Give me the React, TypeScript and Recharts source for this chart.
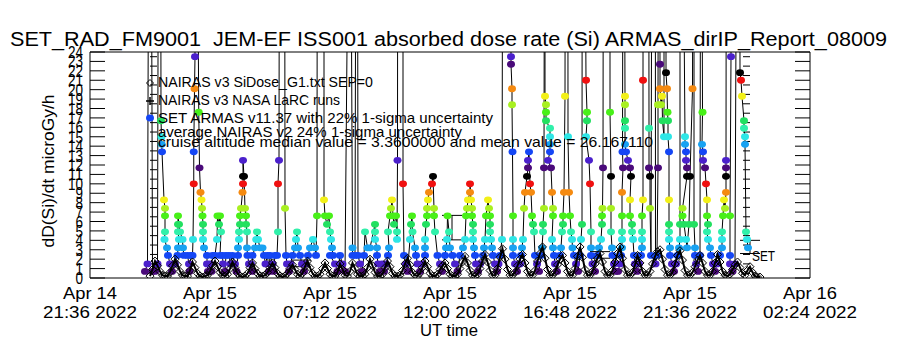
import React from 'react';
import { ComposedChart, Scatter, XAxis, YAxis, ErrorBar } from 'recharts';

const FONT = '"Liberation Sans", Arial, sans-serif';

// ---- axis ticks (hours after Apr 14 21:36 UT) ----
const xTickHours = [0, 4.8, 9.6, 14.4, 19.2, 24.0, 28.8];
const xTickDates = ['Apr 14', 'Apr 15', 'Apr 15', 'Apr 15', 'Apr 15', 'Apr 15', 'Apr 16'];
const xTickTimes = ['21:36 2022', '02:24 2022', '07:12 2022', '12:00 2022', '16:48 2022', '21:36 2022', '02:24 2022'];
const xMinorHours = [1.2, 2.4, 3.6, 6.0, 7.2, 8.4, 10.8, 12.0, 13.2, 15.6, 16.8, 18.0, 20.4, 21.6, 22.8, 25.2, 26.4, 27.6];
const yTicks = [0, 1, 2, 3, 4, 5, 6, 7, 8, 9, 10, 11, 12, 13, 14, 15, 16, 17, 18, 19, 20, 21, 22, 23, 24];
const yMinor = [0.5, 1.5, 2.5, 3.5, 4.5, 5.5, 6.5, 7.5, 8.5, 9.5, 10.5, 11.5, 12.5, 13.5, 14.5, 15.5, 16.5, 17.5, 18.5, 19.5, 20.5, 21.5, 22.5, 23.5];

// ---- NAIRAS v3 SiDose_G1 model (sampled every 0.1 h from 2.4 h) ----
const nairasStart = 2.4;
const nairasStep = 0.1;
const nairasValues = [
  0.2, 0.9, 1.8, 1.3, 0.7, 0.3, 0.2, 0.2, 0.6, 1.3,
  2.0, 1.4, 0.7, 0.3, 0.2, 0.2, 0.8, 1.7, 1.1, 0.5,
  0.2, 0.1, 0.2, 0.3, 0.7, 1.3, 1.8, 1.2, 0.6, 0.3,
  0.2, 0.4, 1.0, 1.7, 1.1, 0.5, 0.2, 0.1, 0.2, 0.5,
  1.1, 1.6, 1.0, 0.5, 0.2, 0.2, 0.3, 0.6, 1.1, 1.6,
  1.1, 0.5, 0.2, 0.1, 0.2, 0.5, 1.0, 1.4, 0.9, 0.4,
  0.2, 0.5, 1.2, 1.8, 1.1, 0.5, 0.2, 0.2, 0.4, 1.0,
  1.6, 1.0, 0.4, 0.2, 0.2, 0.6, 1.5, 0.9, 0.3, 0.2,
  0.7, 1.6, 1.0, 0.4, 0.2, 0.2, 0.4, 1.1, 2.0, 1.3,
  0.6, 0.2, 0.2, 0.4, 1.1, 1.8, 1.2, 0.5, 0.2, 0.2,
  0.3, 0.8, 1.5, 2.1, 1.4, 0.6, 0.3, 0.2, 0.5, 1.1,
  1.8, 1.2, 0.5, 0.2, 0.2, 0.4, 0.9, 1.3, 1.6, 1.0,
  0.4, 0.2, 0.2, 0.4, 1.0, 1.7, 2.3, 1.6, 0.8, 0.3,
  0.2, 0.4, 1.0, 1.8, 2.5, 1.7, 0.8, 0.3, 0.3, 1.0,
  2.2, 3.1, 2.0, 0.9, 0.3, 0.3, 0.6, 1.3, 2.0, 2.5,
  1.6, 0.7, 0.3, 0.3, 0.8, 1.8, 2.6, 3.3, 2.1, 0.9,
  0.3, 0.3, 0.6, 1.4, 2.0, 2.4, 1.6, 0.7, 0.3, 0.3,
  1.0, 2.3, 3.3, 2.2, 0.9, 0.3, 0.3, 0.7, 1.5, 2.1,
  2.6, 1.7, 0.7, 0.3, 0.3, 0.8, 1.7, 2.6, 3.3, 2.1,
  0.9, 0.3, 0.3, 0.6, 1.4, 2.4, 1.6, 0.7, 0.3, 0.3,
  0.7, 1.5, 2.3, 2.8, 3.0, 2.0, 0.9, 0.3, 0.3, 0.6,
  1.5, 2.4, 2.9, 1.9, 0.8, 0.3, 0.3, 0.6, 1.2, 1.9,
  2.4, 1.6, 0.7, 0.3, 0.3, 0.7, 1.6, 2.5, 1.7, 0.7,
  0.3, 0.2, 0.4, 0.9, 1.4, 1.7, 1.1, 0.5, 0.3, 0.8,
  1.2, 0.6, 0.2, 0.1, 0.1,
];

// ---- SET ARMAS v11.37 measurements [hour, microGy/h] in time order ----
const armas: [number, number][] = [
  [2.2, 0.7], [2.3, 1.5], [2.4, 85], [2.5, 0.7], [2.6, 0.7], [2.7, 1.5],
  [2.8, 110], [2.84, 16.7], [2.86, 15.0], [2.87, 14.2], [2.88, 13.4], [2.96, 8.3], [3.0, 7.4], [3.0, 6.6], [3.0, 4.9], [2.98, 4.1], [3.08, 3.2], [3.12, 2.4], [3.2, 1.5], [3.28, 0.7],
  [3.4, 1.5], [3.5, 2.4], [3.52, 3.2], [3.56, 4.1], [3.52, 4.9], [3.52, 5.7], [3.52, 6.6], [3.56, 5.7], [3.6, 4.9], [3.7, 4.1], [3.72, 3.2], [3.76, 2.4], [3.9, 2.4], [3.96, 1.5], [3.98, 0.7], [4.04, 2.4],
  [4.1, 2.4], [4.12, 4.1], [4.15, 10.0], [4.15, 13.4], [4.18, 20.1], [4.2, 23.5], [4.22, 70], [4.35, 17.6], [4.38, 11.7], [4.42, 9.1], [4.46, 8.3], [4.48, 7.4], [4.5, 6.6], [4.52, 5.7], [4.52, 4.9], [4.52, 4.1], [4.56, 3.2], [4.68, 2.4], [4.68, 1.5], [4.72, 0.7],
  [4.8, 1.5], [4.86, 0.7], [4.9, 2.4], [5.0, 2.4], [5.08, 4.1], [5.1, 6.6], [5.16, 5.7], [5.2, 6.6], [5.24, 4.9], [5.2, 2.4], [5.3, 2.4], [5.32, 1.5], [5.4, 0.7], [5.44, 2.4],
  [5.56, 2.4], [5.62, 1.5], [5.7, 2.4], [5.8, 1.5], [5.86, 0.7], [5.92, 2.4],
  [5.92, 3.2], [5.96, 4.1], [5.96, 4.9], [6.0, 5.7], [6.0, 6.6], [6.04, 7.4], [6.1, 9.1], [6.12, 10.0], [6.12, 10.8], [6.12, 12.5], [6.16, 10.8], [6.2, 7.4], [6.24, 6.6], [6.24, 5.7], [6.28, 4.9], [6.28, 3.2], [6.3, 2.4], [6.36, 1.5], [6.44, 1.5], [6.48, 0.7],
  [6.5, 2.4], [6.6, 3.2], [6.65, 4.1], [6.68, 4.9], [6.72, 4.1], [6.8, 3.2], [6.9, 3.2], [6.96, 2.4], [7.02, 1.5], [7.1, 2.4], [7.16, 0.7], [7.2, 2.4], [7.3, 1.5], [7.34, 0.7],
  [7.4, 2.4], [7.48, 2.4], [7.52, 4.9], [7.52, 10.0], [7.56, 12.5], [7.6, 90], [7.76, 120], [7.8, 7.4], [7.84, 2.4], [7.88, 1.5], [7.96, 0.7], [8.02, 1.5],
  [8.1, 2.4], [8.2, 3.2], [8.24, 4.1], [8.28, 4.9], [8.32, 3.2], [8.4, 2.4], [8.48, 1.5], [8.56, 0.7], [8.62, 1.5],
  [8.72, 2.4], [8.8, 3.2], [8.92, 4.1], [9.0, 3.2], [9.04, 2.4], [9.08, 6.6], [9.1, 75], [9.36, 140], [9.36, 8.3],
  [9.4, 6.6], [9.48, 5.7], [9.56, 6.6], [9.6, 4.9], [9.64, 4.1], [9.68, 3.2], [9.72, 2.4], [9.6, 2.4], [9.8, 1.5], [9.9, 0.7], [10.0, 2.4], [10.1, 1.5], [10.2, 0.7],
  [10.4, 60], [10.5, 3.2], [10.5, 2.4], [10.6, 2.4], [10.68, 95], [10.72, 2.4], [10.8, 1.5], [10.88, 0.7],
  [10.96, 2.4], [11.0, 4.9], [11.1, 3.2], [11.2, 3.2], [11.4, 5.7], [11.4, 4.9], [11.4, 4.1], [11.48, 3.2], [11.48, 2.4], [11.52, 1.5], [11.6, 0.7], [11.68, 1.5], [11.76, 0.7], [11.84, 1.5],
  [11.92, 2.4], [11.96, 3.2], [11.92, 4.9], [12.0, 6.6], [12.04, 7.4], [12.08, 8.3], [12.12, 6.6], [12.16, 5.7], [12.24, 6.6], [12.28, 4.9], [12.28, 4.1], [12.3, 12.5], [12.32, 80], [12.52, 150], [12.52, 10.0], [12.56, 2.4], [12.64, 1.5], [12.7, 0.7],
  [12.8, 4.1], [12.84, 5.7], [12.88, 6.6], [12.9, 4.9], [13.0, 3.2], [13.04, 2.4], [13.1, 1.5], [13.2, 0.7], [13.28, 1.5],
  [13.4, 2.4], [13.4, 3.2], [13.4, 4.1], [13.44, 5.7], [13.48, 6.6], [13.48, 7.4], [13.52, 8.3], [13.56, 9.1], [13.68, 10.0], [13.72, 10.8], [13.76, 7.4], [13.76, 6.6], [13.8, 4.9], [13.9, 2.4], [14.0, 1.5], [14.08, 0.7],
  [14.2, 2.4], [14.24, 3.2], [14.28, 4.1], [14.3, 6.6], [14.36, 4.9], [14.4, 3.2], [14.5, 2.4], [14.6, 1.5], [14.7, 0.7],
  [14.8, 2.4], [14.92, 3.2], [15.0, 4.1], [15.04, 6.6], [15.08, 7.4], [15.12, 8.3], [15.2, 9.1], [15.2, 10.0], [15.24, 8.3], [15.28, 7.4], [15.28, 6.6], [15.32, 5.7], [15.32, 4.9], [15.32, 4.1], [15.36, 3.2], [15.4, 2.4], [15.44, 1.5], [15.52, 0.7], [15.6, 1.5],
  [15.72, 2.4], [15.76, 3.2], [15.8, 4.1], [15.84, 6.6], [15.92, 8.3], [15.96, 7.4], [16.0, 6.6], [16.0, 5.7], [16.0, 4.9], [16.04, 4.1], [16.08, 3.2], [16.12, 2.4], [16.2, 1.5], [16.28, 0.7], [16.34, 1.5],
  [16.4, 2.4], [16.48, 4.1], [16.52, 65], [16.8, 110], [16.84, 23.5], [16.84, 22.7], [16.88, 20.1], [16.88, 18.4], [16.9, 13.4], [16.92, 6.6], [16.92, 4.1], [16.92, 3.2], [16.92, 2.4], [17.0, 1.5], [17.08, 0.7],
  [17.2, 1.5], [17.24, 2.4], [17.28, 3.2], [17.32, 4.1], [17.36, 7.4], [17.4, 9.1], [17.48, 10.8], [17.52, 11.7], [17.52, 12.5], [17.56, 13.4], [17.6, 10.0], [17.64, 9.1], [17.68, 6.6], [17.72, 5.7], [17.76, 4.9], [17.8, 2.4], [17.88, 1.5], [17.96, 0.7],
  [18.04, 2.4], [18.08, 3.2], [18.12, 4.9], [18.12, 5.7], [18.16, 7.4], [18.16, 11.7], [18.2, 85], [18.2, 19.3], [18.24, 18.4], [18.24, 17.6], [18.24, 16.7], [18.4, 15.9], [18.4, 15.0], [18.4, 14.2], [18.4, 13.4], [18.32, 12.5], [18.44, 11.7], [18.48, 9.1], [18.52, 7.4], [18.52, 6.6], [18.48, 4.1], [18.52, 3.2], [18.56, 2.4], [18.6, 1.5], [18.68, 0.7],
  [18.8, 2.4], [18.84, 3.2], [18.88, 4.9], [18.92, 5.7], [18.92, 6.6], [18.96, 9.1], [19.0, 19.3], [19.02, 70], [19.1, 130], [19.12, 15.0], [19.16, 9.1], [19.2, 6.6], [19.24, 4.9], [19.28, 4.1], [19.3, 3.2], [19.36, 2.4], [19.44, 1.5], [19.52, 0.7],
  [19.6, 2.4], [19.64, 4.1], [19.68, 5.7], [19.7, 90], [19.84, 21.0], [19.88, 17.6], [19.88, 16.7], [19.84, 15.0], [19.96, 12.5], [20.0, 10.0], [20.04, 4.9], [20.04, 3.2], [20.04, 2.4], [20.1, 1.5], [20.2, 0.7],
  [20.3, 2.4], [20.36, 3.2], [20.44, 4.1], [20.48, 5.7], [20.48, 6.6], [20.5, 7.4], [20.52, 11.7], [20.54, 60], [20.8, 100], [20.8, 17.6], [20.84, 10.8], [20.84, 7.4], [20.84, 4.9], [20.88, 3.2], [20.9, 2.4], [20.96, 1.5], [21.04, 0.7], [21.12, 0.7],
  [21.2, 1.5], [21.24, 2.4], [21.28, 3.2], [21.28, 4.1], [21.28, 4.9], [21.28, 6.6], [21.28, 9.1], [21.32, 11.7], [21.3, 13.4], [21.34, 75], [21.4, 19.3], [21.4, 18.4], [21.4, 16.7], [21.4, 15.9], [21.4, 14.2], [21.44, 13.4], [21.52, 12.5], [21.6, 11.7], [21.64, 10.8], [21.6, 8.3], [21.6, 6.6], [21.68, 5.7], [21.68, 4.9], [21.72, 4.1], [21.76, 2.4], [21.8, 1.5], [21.88, 0.7], [21.96, 1.5],
  [22.04, 2.4], [22.08, 3.2], [22.08, 4.1], [22.08, 4.9], [22.08, 6.6], [22.12, 8.3], [22.12, 21.0], [22.14, 95], [22.32, 140], [22.36, 15.9], [22.36, 11.7], [22.4, 10.8], [22.4, 7.4], [22.44, 2.4], [22.5, 70], [22.6, 120], [22.62, 1.5],
  [22.68, 2.4], [22.72, 11.7], [22.72, 18.4], [22.76, 85], [22.8, 22.7], [22.8, 20.1], [22.84, 18.4], [22.88, 19.3], [22.9, 16.7], [22.96, 15.0], [22.96, 60], [23.04, 110], [23.04, 21.8], [23.08, 20.1], [23.1, 17.6], [23.12, 16.7], [23.12, 15.0], [23.16, 13.4], [23.16, 8.3], [23.16, 5.7], [23.16, 4.9], [23.16, 4.1], [23.2, 3.2], [23.2, 2.4], [23.28, 1.5], [23.36, 0.7], [23.44, 1.5],
  [23.5, 2.4], [23.56, 3.2], [23.6, 4.1], [23.6, 5.7], [23.6, 80], [23.8, 15.0], [23.8, 14.2], [23.84, 13.4], [23.84, 12.5], [23.88, 11.7], [23.88, 10.8], [23.7, 7.4], [23.7, 6.6], [23.76, 5.7], [23.84, 4.1], [23.88, 3.2], [23.96, 5.7], [24.0, 10.8], [24.1, 20.1], [24.16, 90], [24.16, 5.7], [24.2, 3.2], [24.2, 2.4], [24.24, 1.5], [24.32, 0.7],
  [24.4, 2.4], [24.44, 75], [24.5, 17.6], [24.48, 14.2], [24.52, 13.4], [24.52, 12.5], [24.6, 11.7], [24.64, 10.0], [24.68, 8.3], [24.68, 6.6], [24.72, 5.7], [24.68, 4.9], [24.72, 4.1], [24.8, 3.2], [24.84, 2.4], [24.92, 1.5], [25.0, 0.7], [25.08, 1.5],
  [25.2, 2.4], [25.28, 3.2], [25.28, 4.1], [25.28, 4.9], [25.32, 6.6], [25.36, 8.3], [25.4, 7.4], [25.44, 9.1], [25.44, 10.8], [25.44, 11.7], [25.44, 12.5], [25.46, 65], [25.64, 120], [25.64, 23.5], [25.6, 6.6], [25.6, 2.4], [25.6, 1.5], [25.7, 0.7],
  [25.8, 1.5], [25.96, 100], [26.0, 21.8], [26.04, 21.0], [26.08, 19.3], [26.16, 16.7], [26.16, 15.9], [26.2, 15.0], [26.2, 14.2], [26.24, 4.9], [26.28, 4.1], [26.32, 3.2],
];

// ---- uncertainty bars [hour, value, half-range] ----
const uncertainty: [number, number, number][] = [
  [8.44, 1.55, 0.35],
  [14.48, 5.35, 1.3],
  [20.4, 2.45, 0.35],
  [26.4, 3.3, 0.7],
];

const levelColors = [
  '#4a0a7a', '#4b20cc', '#1446f5', '#18a2f2', '#2ee6e6', '#30f0aa', '#22e060',
  '#48f018', '#a8f020', '#f2f018', '#f58a10', '#f01010', '#000000',
];
const colorFor = (v: number) => {
  const lvl = Math.round((v - 0.67) / 0.846);
  return levelColors[((lvl % 13) + 13) % 13];
};

const armasData = armas.map(([t, v]) => ({ t, v }));
const nairasData = nairasValues.map((v, i) => ({ t: +(nairasStart + i * nairasStep).toFixed(2), v }));
const uncData = uncertainty.map(([t, v, e]) => ({ t, v, e }));

const ArmasDot = (props: any) => {
  const { cx, cy, payload } = props;
  if (cx == null || cy == null || payload.v > 24) return <g />;
  return <ellipse cx={cx} cy={cy} rx={4} ry={3.4} fill={colorFor(payload.v)} />;
};

const Diamond = (props: any) => {
  const { cx, cy } = props;
  if (cx == null || cy == null) return <g />;
  const s = 4;
  return (
    <path
      d={`M${cx},${cy - s}L${cx + s},${cy}L${cx},${cy + s}L${cx - s},${cy}Z`}
      fill="none"
      stroke="#000"
      strokeWidth={1}
    />
  );
};

const NoShape = () => <g />;
const NoTick = () => <g />;

const XTick = (props: any) => {
  const { x, y, payload } = props;
  const i = xTickHours.indexOf(payload.value);
  if (i < 0) return <g />;
  return (
    <g fontFamily={FONT} fill="#000">
      <text x={x} y={y + 21} textAnchor="middle" fontSize={16} textLength={54} lengthAdjust="spacingAndGlyphs">
        {xTickDates[i]}
      </text>
      <text x={x} y={y + 40} textAnchor="middle" fontSize={16} textLength={94} lengthAdjust="spacingAndGlyphs">
        {xTickTimes[i]}
      </text>
    </g>
  );
};

const YTick = (props: any) => {
  const { x, y, payload } = props;
  const s = String(payload.value);
  return (
    <text
      x={x}
      y={y + 6}
      textAnchor="end"
      fontFamily={FONT}
      fontSize={16}
      fill="#000"
      textLength={s.length * 7.5}
      lengthAdjust="spacingAndGlyphs"
    >
      {s}
    </text>
  );
};

const AXIS = { stroke: '#000', strokeWidth: 1 };

export default function App() {
  return (
    <div style={{ position: 'absolute', left: 0, top: 0, width: 900, height: 350, background: '#fff' }}>
      <ComposedChart width={900} height={350} margin={{ top: 52, right: 90, bottom: 0, left: 30 }}>
        <XAxis
          xAxisId="main"
          dataKey="t"
          type="number"
          domain={[0, 28.8]}
          allowDataOverflow
          ticks={xTickHours}
          interval={0}
          tickSize={0}
          tickMargin={0}
          tickLine={false}
          axisLine={AXIS}
          tick={<XTick />}
          height={72}
        />
        <XAxis xAxisId="bMaj" type="number" domain={[0, 28.8]} allowDataOverflow ticks={xTickHours} interval={0}
          orientation="bottom" mirror tickSize={10} tickLine={AXIS} tick={<NoTick />} axisLine={false} />
        <XAxis xAxisId="bMin" type="number" domain={[0, 28.8]} allowDataOverflow ticks={xMinorHours} interval={0}
          orientation="bottom" mirror tickSize={5} tickLine={AXIS} tick={<NoTick />} axisLine={false} />
        <XAxis xAxisId="tMaj" type="number" domain={[0, 28.8]} allowDataOverflow ticks={xTickHours} interval={0}
          orientation="top" mirror tickSize={10} tickLine={AXIS} tick={<NoTick />} axisLine={AXIS} />
        <XAxis xAxisId="tMin" type="number" domain={[0, 28.8]} allowDataOverflow ticks={xMinorHours} interval={0}
          orientation="top" mirror tickSize={5} tickLine={AXIS} tick={<NoTick />} axisLine={false} />

        <YAxis
          yAxisId="main"
          dataKey="v"
          type="number"
          domain={[0, 24]}
          allowDataOverflow
          ticks={yTicks}
          interval={0}
          tickSize={0}
          tickMargin={7}
          tickLine={false}
          axisLine={AXIS}
          tick={<YTick />}
          width={60}
        />
        <YAxis yAxisId="lMaj" type="number" domain={[0, 24]} allowDataOverflow ticks={yTicks} interval={0}
          orientation="left" mirror tickSize={15} tickLine={AXIS} tick={<NoTick />} axisLine={false} />
        <YAxis yAxisId="lMin" type="number" domain={[0, 24]} allowDataOverflow ticks={yMinor} interval={0}
          orientation="left" mirror tickSize={7} tickLine={AXIS} tick={<NoTick />} axisLine={false} />
        <YAxis yAxisId="rMaj" type="number" domain={[0, 24]} allowDataOverflow ticks={yTicks} interval={0}
          orientation="right" mirror tickSize={15} tickLine={AXIS} tick={<NoTick />} axisLine={AXIS} />
        <YAxis yAxisId="rMin" type="number" domain={[0, 24]} allowDataOverflow ticks={yMinor} interval={0}
          orientation="right" mirror tickSize={7} tickLine={AXIS} tick={<NoTick />} axisLine={false} />

        <Scatter
          name="SET ARMAS"
          data={armasData}
          xAxisId="main"
          yAxisId="main"
          dataKey="v"
          line={{ stroke: '#000', strokeWidth: 1 }}
          lineType="joint"
          shape={<ArmasDot />}
          isAnimationActive={false}
        />
        <Scatter
          name="NAIRAS"
          data={nairasData}
          xAxisId="main"
          yAxisId="main"
          dataKey="v"
          line={{ stroke: '#000', strokeWidth: 2 }}
          lineType="joint"
          shape={<Diamond />}
          isAnimationActive={false}
        />
        <Scatter
          name="uncertainty"
          data={uncData}
          xAxisId="main"
          yAxisId="main"
          dataKey="v"
          shape={<NoShape />}
          isAnimationActive={false}
        >
          <ErrorBar dataKey="e" direction="y" width={10} stroke="#000" strokeWidth={1} isAnimationActive={false} />
        </Scatter>
      </ComposedChart>

      <svg
        width={900}
        height={350}
        style={{ position: 'absolute', left: 0, top: 0, pointerEvents: 'none' }}
        fontFamily={FONT}
        fill="#000"
      >
        <text x={10} y={46} fontSize={20} textLength={877} lengthAdjust="spacingAndGlyphs" style={{ whiteSpace: 'pre' }}>
          {'SET_RAD_FM9001  JEM-EF ISS001 absorbed dose rate (Si) ARMAS_dirIP_Report_08009'}
        </text>
        <text transform="translate(54,171) rotate(-90)" textAnchor="middle" fontSize={17} textLength={153} lengthAdjust="spacingAndGlyphs">
          dD(Si)/dt microGy/h
        </text>
        <text x={449} y={336} textAnchor="middle" fontSize={16} textLength={58} lengthAdjust="spacingAndGlyphs">
          UT time
        </text>

        <path d="M150,79.5L153.5,83L150,86.5L146.5,83Z" fill="none" stroke="#000" strokeWidth={1} />
        <text x={158} y={87} fontSize={15} textLength={215} lengthAdjust="spacingAndGlyphs">NAIRAS v3 SiDose_G1.txt SEP=0</text>
        <path d="M146,101H154M150,97V105" stroke="#000" strokeWidth={1.5} />
        <text x={158} y={105} fontSize={15} textLength={182} lengthAdjust="spacingAndGlyphs">NAIRAS v3 NASA LaRC runs</text>
        <ellipse cx={150} cy={118} rx={4} ry={3.4} fill="#1446f5" />
        <text x={158} y={123} fontSize={15} textLength={335} lengthAdjust="spacingAndGlyphs">SET ARMAS v11.37 with 22% 1-sigma uncertainty</text>
        <text x={158} y={137} fontSize={15} textLength={304} lengthAdjust="spacingAndGlyphs">average NAIRAS v2 24% 1-sigma uncertainty</text>
        <text x={158} y={147} fontSize={15} textLength={495} lengthAdjust="spacingAndGlyphs">
          cruise altitude median value = 3.3600000 and mean value = 26.167110
        </text>
        <text x={752} y={261} fontSize={14} textLength={23} lengthAdjust="spacingAndGlyphs">SET</text>
      </svg>
    </div>
  );
}
